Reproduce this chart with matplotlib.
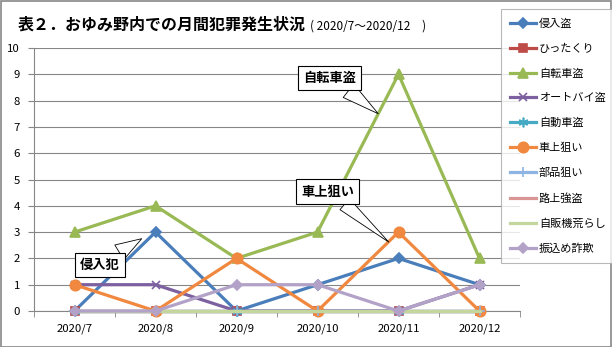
import matplotlib
matplotlib.use('Agg')
import matplotlib.pyplot as plt
from matplotlib.patches import Rectangle

plt.rcParams['font.family'] = ['Noto Sans CJK JP', 'DejaVu Sans']

months = ['2020/7', '2020/8', '2020/9', '2020/10', '2020/11', '2020/12']
shinyu = [0, 3, 0, 1, 2, 1]
hittakuri = [0, 0, 0, 0, 0, 0]
jitensha = [3, 4, 2, 3, 9, 2]
autobai = [1, 1, 0, 0, 0, 1]
jidousha = [0, 0, 0, 0, 0, 0]
shajou = [1, 0, 2, 0, 3, 0]
buhin = [0, 0, 0, 0, 0, 0]
rojou = [0, 0, 0, 0, 0, 0]
jihanki = [0, 0, 0, 0, 0, 0]
furikome = [0, 0, 1, 1, 0, 1]

series = [
    ('侵入盗', shinyu, '#4A7EBB', 'D', 5.5),
    ('ひったくり', hittakuri, '#BE4B48', 's', 5.5),
    ('自転車盗', jitensha, '#98B954', '^', 7),
    ('オートバイ盗', autobai, '#7D60A0', 'x', 6),
    ('自動車盗', jidousha, '#46AAC5', (6, 2, 0), 7),
    ('車上狙い', shajou, '#F0883F', 'o', 7.5),
    ('部品狙い', buhin, '#8EB4E3', '+', 7),
    ('路上強盗', rojou, '#D99694', None, 0),
    ('自販機荒らし', jihanki, '#C3D69B', None, 0),
    ('振込め詐欺', furikome, '#B3A2C7', 'D', 5.5),
]

W, H = 612, 347
fig = plt.figure(figsize=(W / 100, H / 100), dpi=100)
fig.patches.append(Rectangle((0.5 / W, 0.5 / H), 1 - 1.5 / W, 1 - 1.5 / H,
                             transform=fig.transFigure, fill=False,
                             ec='#888888', lw=1.2))

ax = fig.add_axes([34 / W, 1 - 311 / H, 486 / W, 263 / H])
x = list(range(len(months)))
for name, vals, col, mk, ms in series:
    ax.plot(x, vals, color=col, lw=2.3, marker=mk, markersize=ms,
            markeredgecolor=col, markerfacecolor=col, markeredgewidth=1.2,
            label=name, clip_on=False, zorder=3)

ax.set_xlim(-0.5, len(months) - 0.5)
ax.set_ylim(0, 10)
ax.set_yticks(range(0, 11))
ax.set_xticks(x)
ax.set_xticklabels(months)
ax.set_xticks([i - 0.5 for i in range(len(months) + 1)], minor=True)
ax.tick_params(axis='x', which='major', length=0, pad=9, labelsize=8.2)
ax.tick_params(axis='x', which='minor', length=4, color='#868686', direction='out')
ax.tick_params(axis='y', length=4, color='#868686', pad=6, labelsize=8.2)
ax.grid(axis='y', color='#868686', lw=0.8, zorder=0)
ax.set_axisbelow(True)
for s in ['top', 'right']:
    ax.spines[s].set_visible(False)
for s in ['left', 'bottom']:
    ax.spines[s].set_color('#868686')
    ax.spines[s].set_linewidth(0.8)

# title
fig.text(18 / W, 1 - 25 / H, '表２．おゆみ野内での月間犯罪発生状況', fontsize=11.5,
         fontweight='bold', ha='left', va='center')
fig.text(310 / W, 1 - 26 / H, '( 2020/7～2020/12　)', fontsize=8.5,
         ha='left', va='center')

# legend
leg = fig.legend(loc='upper left', bbox_to_anchor=(501 / W, 1 - 9 / H),
                 frameon=True, fancybox=False, fontsize=8,
                 handlelength=2.3, handletextpad=0.25, labelspacing=1.31,
                 borderpad=0.85, borderaxespad=0)
leg.get_frame().set_edgecolor('#A6A6A6')
leg.get_frame().set_linewidth(0.8)

# callouts
def callout(txt, xy, tpix, relpos, tw, padx):
    ax.annotate(txt, xy=xy, xycoords='data',
                xytext=(tpix[0], H - tpix[1]), textcoords='figure pixels',
                ha='center', va='center', fontsize=9.5, fontweight='bold',
                bbox=dict(boxstyle='square,pad=%s' % padx, fc='white', ec='black', lw=0.8),
                zorder=6,
                arrowprops=dict(arrowstyle='wedge,tail_width=%s,shrink_factor=0.5' % tw,
                                fc='white', ec='black', lw=0.6,
                                relpos=relpos, shrinkA=0, shrinkB=0))

callout('自転車盗', (3.75, 7.5), (329.5, 78), (0.72, 0), 1.3, 0.4)
callout('車上狙い', (3.88, 2.62), (327.5, 191.5), (0.7, 0), 1.1, 0.4)
callout('侵入犯', (0.83, 2.75), (100, 265), (0.75, 1), 1.3, 0.4)

fig.savefig('out.png', dpi=100)
